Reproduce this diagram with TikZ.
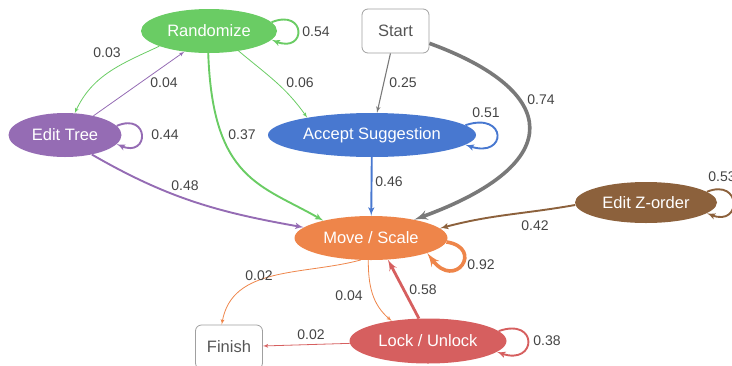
\documentclass[tikz,border=0pt]{standalone}
\usepackage{fontspec}
\setmainfont{Liberation Sans}
\usetikzlibrary{arrows, shapes.geometric}

\definecolor{mblue}{HTML}{4878D0}
\definecolor{morange}{HTML}{EE854A}
\definecolor{mgreen}{HTML}{6ACC64}
\definecolor{mred}{HTML}{D65F5F}
\definecolor{mpurple}{HTML}{956CB4}
\definecolor{mbrown}{HTML}{8C613C}
\definecolor{mgray}{HTML}{797979}
\definecolor{txtgray}{HTML}{555555}
\definecolor{boxgray}{HTML}{A0A0A0}
\definecolor{lblgray}{HTML}{444444}

\begin{document}
\begin{tikzpicture}[->,>=latex',x=1pt,y=1pt,
		state/.style={ellipse, fill=#1, draw=none, text=white, inner sep=0pt, minimum height=44pt, font=\fontsize{16.5}{19}\selectfont},
		term/.style={rectangle, rounded corners=6pt, draw=boxgray, line width=0.8pt, text=txtgray, minimum width=67pt, minimum height=44pt, font=\fontsize{16.5}{19}\selectfont},
		lbl/.style={text=lblgray, inner sep=0pt, font=\fontsize{14}{16}\selectfont},
		tr/.style={draw=#1},
		faint/.style={line width=0.8pt},
		light/.style={line width=1.1pt},
		medium/.style={line width=1.9pt},
		heavy/.style={line width=2.8pt},
		bold/.style={line width=3.6pt}]
			\useasboundingbox (0, 0) rectangle (732, -365);
			\node[state=mgreen, minimum width=136pt] at (209, -31) (randomize) {Randomize};
			\node[term] at (395.5, -31) (start) {Start};
			\node[state=mpurple, minimum width=113pt] at (65, -135) (edit-tree) {Edit Tree};
			\node[state=mblue, minimum width=208pt] at (372, -135) (accept) {Accept Suggestion};
			\node[state=mbrown, minimum width=142pt, minimum height=41pt] at (646, -202.5) (edit-z) {Edit Z-order};
			\node[state=morange, minimum width=153pt] at (371, -238) (move) {Move / Scale};
			\node[state=mred, minimum width=157pt, minimum height=45pt] at (428, -341) (lock) {Lock / Unlock};
			\node[term] at (229, -347) (finish) {Finish};

			% from Randomize
			\draw[tr=mgreen, medium] (randomize.8) .. controls +(35, 14) and +(35, -14) .. (randomize.-8);
			\draw[tr=mgreen, faint] (randomize.197) to[out=205, in=65] (edit-tree.66);
			\draw[tr=mgreen, faint] (randomize.-34) to[out=-40, in=125] (accept.165);
			\draw[tr=mgreen, medium] (randomize.-92) to[out=-88, in=150, out looseness=1.6, in looseness=0.9] (move.160);
			% from Start
			\draw[tr=mgray, light] (start) -- (accept);
			\draw[tr=mgray, bold] (start.-20) to[out=-20, in=20, out looseness=2.0, in looseness=2.4] (move.23);
			% from Edit Tree
			\draw[tr=mpurple, faint] (edit-tree.34) -- (randomize.220);
			\draw[tr=mpurple, medium] (edit-tree.10) .. controls +(33, 14) and +(33, -14) .. (edit-tree.-10);
			\draw[tr=mpurple, medium] (edit-tree.-36) to[out=-30, in=170] (move.171);
			% from Accept Suggestion
			\draw[tr=mblue, medium] (accept.6) .. controls +(42, 14) and +(42, -14) .. (accept.-6);
			\draw[tr=mblue, medium] (accept) -- (move);
			% from Edit Z-order
			\draw[tr=mbrown, medium] (edit-z.10) .. controls +(35, 14) and +(35, -14) .. (edit-z.-10);
			\draw[tr=mbrown, medium] (edit-z.182) to[out=190, in=15] (move.8);
			% from Move / Scale
			\draw[tr=morange, bold] (move.-3) .. controls +(38, -6) and +(28, -38) .. (move.-15);
			\draw[tr=morange, faint] (move.245) to[out=195, in=80] (finish.108);
			\draw[tr=morange, faint] (move.263) to[out=-90, in=140] (lock.151);
			% from Lock / Unlock
			\draw[tr=mred, heavy] (lock.112) -- (move.-52);
			\draw[tr=mred, faint] (lock) -- (finish);
			\draw[tr=mred, medium] (lock.8) .. controls +(40, 14) and +(40, -14) .. (lock.-9);

			% probabilities
			\node[lbl] at (316, -32) (p-rand-rand) {0.54};
			\node[lbl] at (107, -53) (p-rand-tree) {0.03};
			\node[lbl] at (164, -83) (p-tree-rand) {0.04};
			\node[lbl] at (300, -83) (p-rand-acc) {0.06};
			\node[lbl] at (165, -135) (p-tree-tree) {0.44};
			\node[lbl] at (242, -135) (p-rand-move) {0.37};
			\node[lbl] at (403, -83) (p-start-acc) {0.25};
			\node[lbl] at (541, -100) (p-start-move) {0.74};
			\node[lbl] at (486, -113) (p-acc-acc) {0.51};
			\node[lbl] at (389, -182) (p-acc-move) {0.46};
			\node[lbl] at (185, -186) (p-tree-move) {0.48};
			\node[lbl] at (535, -226) (p-z-move) {0.42};
			\node[lbl] at (722, -177) (p-z-z) {0.53};
			\node[lbl] at (481, -265) (p-move-move) {0.92};
			\node[lbl] at (259, -276) (p-move-fin) {0.02};
			\node[lbl] at (349, -296) (p-move-lock) {0.04};
			\node[lbl] at (423, -290) (p-lock-move) {0.58};
			\node[lbl] at (311, -335) (p-lock-fin) {0.02};
			\node[lbl] at (547, -341) (p-lock-lock) {0.38};
		\end{tikzpicture}
\end{document}
